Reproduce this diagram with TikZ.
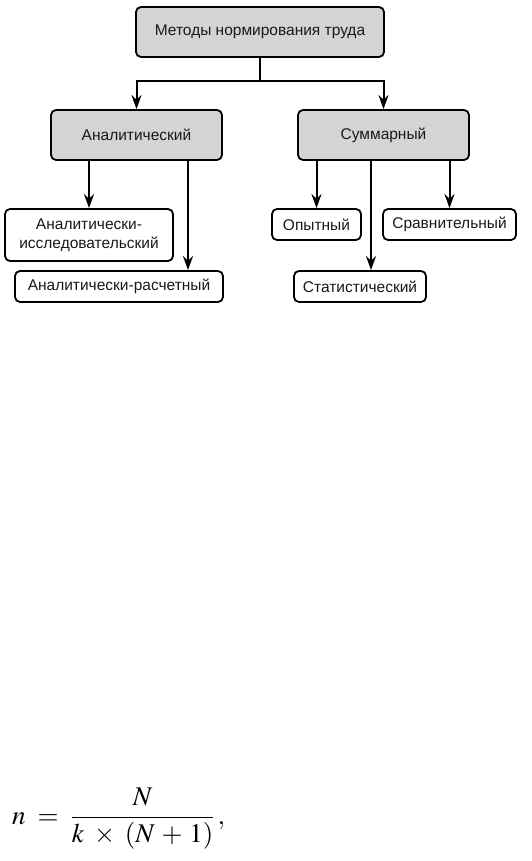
\documentclass[tikz,border=0pt]{standalone}
\usepackage{mathptmx}
\usepackage{fontspec}
\newfontfamily\arialf{Liberation Sans}
\usetikzlibrary{arrows.meta}
\tikzset{
  box/.style={draw=black, line width=1.8pt, rounded corners=5pt, inner sep=0pt, font=\arialf\fontsize{15.5}{19.5}\selectfont, align=center, text=black!90},
  gbox/.style={box, fill=black!17},
  arr/.style={line width=2pt, -{Stealth[length=14pt,width=10pt]}},
  ln/.style={line width=2pt}
}
\begin{document}
\begin{tikzpicture}[x=1pt,y=-1pt]
\useasboundingbox (0,0) rectangle (531,861);
\node[gbox, minimum width=248pt, minimum height=50pt] (top) at (260,32) {Методы нормирования труда};
\node[gbox, minimum width=171pt, minimum height=50pt] (anal) at (136.5,135) {Аналитический};
\node[gbox, minimum width=171pt, minimum height=50pt] (summ) at (383.5,135) {Суммарный};
\node[box, minimum width=168pt, minimum height=52pt] (ai) at (89,235) {Аналитически-\\исследовательский};
\node[box, minimum width=208pt, minimum height=31pt] (ar) at (119,286.5) {Аналитически-расчетный};
\node[box, minimum width=89pt, minimum height=31pt] (op) at (316.5,224.5) {Опытный};
\node[box, minimum width=132pt, minimum height=31pt] (st) at (360,286.5) {Статистический};
\node[box, minimum width=133pt, minimum height=31pt] (sr) at (449.5,224.5) {Сравнительный};
\coordinate (j) at (260,81);
\coordinate (c1) at (188,0);
\coordinate (c2) at (371,0);
\draw[ln] (top.south) -- (j);
\draw[arr] (j) -| (anal.north);
\draw[arr] (j) -| (summ.north);
\draw[arr] (ai.north |- anal.south) -- (ai.north);
\draw[arr] (anal.south -| c1) -- (ar.north -| c1);
\draw[arr] (op.north |- summ.south) -- (op.north);
\draw[arr] (summ.south -| c2) -- (st.north -| c2);
\draw[arr] (sr.north |- summ.south) -- (sr.north);
\node[anchor=base west, inner sep=0pt, font=\fontsize{27}{31}\selectfont] (f) at (12,824) {$n\;=\;{\displaystyle\frac{N}{k\;\times\;(N\,+\,1)}}\,,$};
\end{tikzpicture}
\end{document}
